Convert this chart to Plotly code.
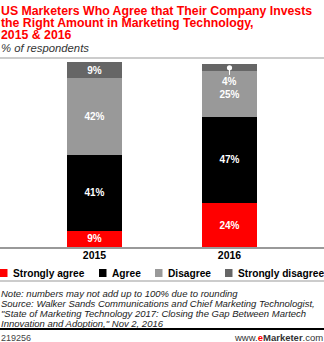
import plotly.graph_objects as go

years = ["2015", "2016"]
series_names = ["Strongly agree", "Agree", "Disagree", "Strongly disagree"]
strongly_agree = [9, 24]
agree = [41, 47]
disagree = [42, 25]
strongly_disagree = [9, 4]
colors = ["#ff0000", "#000000", "#999999", "#666666"]

title_lines = [
    "US Marketers Who Agree that Their Company Invests",
    "the Right Amount in Marketing Technology,",
    "2015 & 2016",
]
subtitle = "% of respondents"
notes = [
    "Note: numbers may not add up to 100% due to rounding",
    "Source: Walker Sands Communications and Chief Marketing Technologist,",
    "\"State of Marketing Technology 2017: Closing the Gap Between Martech",
    "Innovation and Adoption,\" Nov 2, 2016",
]
chart_id = "219256"

W, H = 324, 342
T, B = 62, 95
PH = H - T - B
FONT = "Liberation Sans, Arial, sans-serif"


def py(pix):
    return (H - B - pix) / PH


def px(pix):
    return pix / W


fig = go.Figure()
all_series = [strongly_agree, agree, disagree, strongly_disagree]
for name, vals, col in zip(series_names, all_series, colors):
    texts = [f"{v}%" if v >= 6 else "" for v in vals]
    fig.add_trace(go.Bar(
        x=years, y=vals, name=name, marker=dict(color=col, line=dict(width=0)),
        width=0.407, text=texts, textposition="inside", insidetextanchor="middle",
        constraintext="none",
        textfont=dict(color="white", size=10, family=FONT, weight="bold"),
        showlegend=False, hoverinfo="skip",
    ))

annotations = []
# small-segment label with pin
base16 = strongly_agree[1] + agree[1] + disagree[1]
annotations.append(dict(
    x=1, y=base16 + strongly_disagree[1] * 0.45, xref="x", yref="y",
    text=f"<b>{strongly_disagree[1]}%</b>", showarrow=True, arrowhead=6, arrowsize=1.3,
    arrowwidth=1, arrowcolor="#ffffff", ax=0, ay=14, axref="pixel", ayref="pixel",
    standoff=0, startstandoff=0,
    font=dict(color="#ffffff", size=10, family=FONT),
))

title_y = [11, 23.5, 35.5]
for line, yy in zip(title_lines, title_y):
    annotations.append(dict(
        x=0, y=py(yy), xref="paper", yref="paper", xanchor="left", yanchor="middle",
        text=line, showarrow=False, xshift=-1,
        font=dict(color="#ff0000", size=12.3, family=FONT, weight="bold"),
    ))
annotations.append(dict(
    x=0, y=py(48), xref="paper", yref="paper", xanchor="left", yanchor="middle",
    text=f"<i>{subtitle}</i>", showarrow=False, xshift=-1,
    font=dict(color="#333333", size=11.3, family=FONT),
))

# legend
leg_sq_x = [0, 99, 155, 225]
for name, col, sx in zip(series_names, colors, leg_sq_x):
    annotations.append(dict(
        x=px(sx + 11), y=py(273), xref="paper", yref="paper", xanchor="left",
        yanchor="middle", text=name, showarrow=False,
        font=dict(color="#000000", size=10.2, family=FONT, weight="bold"),
    ))

note_y = [293, 303, 313, 323]
for line, yy in zip(notes, note_y):
    annotations.append(dict(
        x=0, y=py(yy), xref="paper", yref="paper", xanchor="left", yanchor="middle",
        text=f"<i>{line}</i>", showarrow=False, xshift=-1,
        font=dict(color="#222222", size=9.5, family=FONT),
    ))

annotations.append(dict(
    x=0, y=py(337.5), xref="paper", yref="paper", xanchor="left", yanchor="middle",
    text=chart_id, showarrow=False, xshift=-1,
    font=dict(color="#444444", size=9, family=FONT),
))
annotations.append(dict(
    x=1, y=py(337.5), xref="paper", yref="paper", xanchor="right", yanchor="middle",
    text="www.<span style='color:#ff0000'><b>e</b></span><b>Marketer</b>.com",
    showarrow=False, xshift=1,
    font=dict(color="#333333", size=9.5, family=FONT),
))

shapes = [
    dict(type="line", xref="paper", yref="paper", x0=0, x1=1, y0=py(58), y1=py(58),
         line=dict(color="#999999", width=1)),
    dict(type="line", xref="paper", yref="paper", x0=0, x1=1, y0=py(281), y1=py(281),
         line=dict(color="#999999", width=1)),
    dict(type="line", xref="paper", yref="paper", x0=0, x1=1, y0=py(329), y1=py(329),
         line=dict(color="#000000", width=2)),
]
for col, sx in zip(colors, leg_sq_x):
    shapes.append(dict(type="rect", xref="paper", yref="paper",
                       x0=px(sx), x1=px(sx + 7.5), y0=py(269), y1=py(277),
                       fillcolor=col, line=dict(width=0)))

fig.update_layout(
    barmode="stack",
    width=W, height=H,
    margin=dict(l=0, r=0, t=T, b=B, pad=0),
    paper_bgcolor="white", plot_bgcolor="white",
    xaxis=dict(range=[-0.7, 1.7], showline=True, linecolor="#999999", linewidth=1.5,
               ticks="", showgrid=False, zeroline=False, fixedrange=True,
               ticklabelstandoff=-2,
               tickfont=dict(size=10.5, family=FONT, color="#000000", weight="bold")),
    yaxis=dict(range=[0, 101], visible=False, showgrid=False, zeroline=False, fixedrange=True),
    annotations=annotations,
    shapes=shapes,
    showlegend=False,
)

fig.write_html("out.html", config={"displayModeBar": False})
